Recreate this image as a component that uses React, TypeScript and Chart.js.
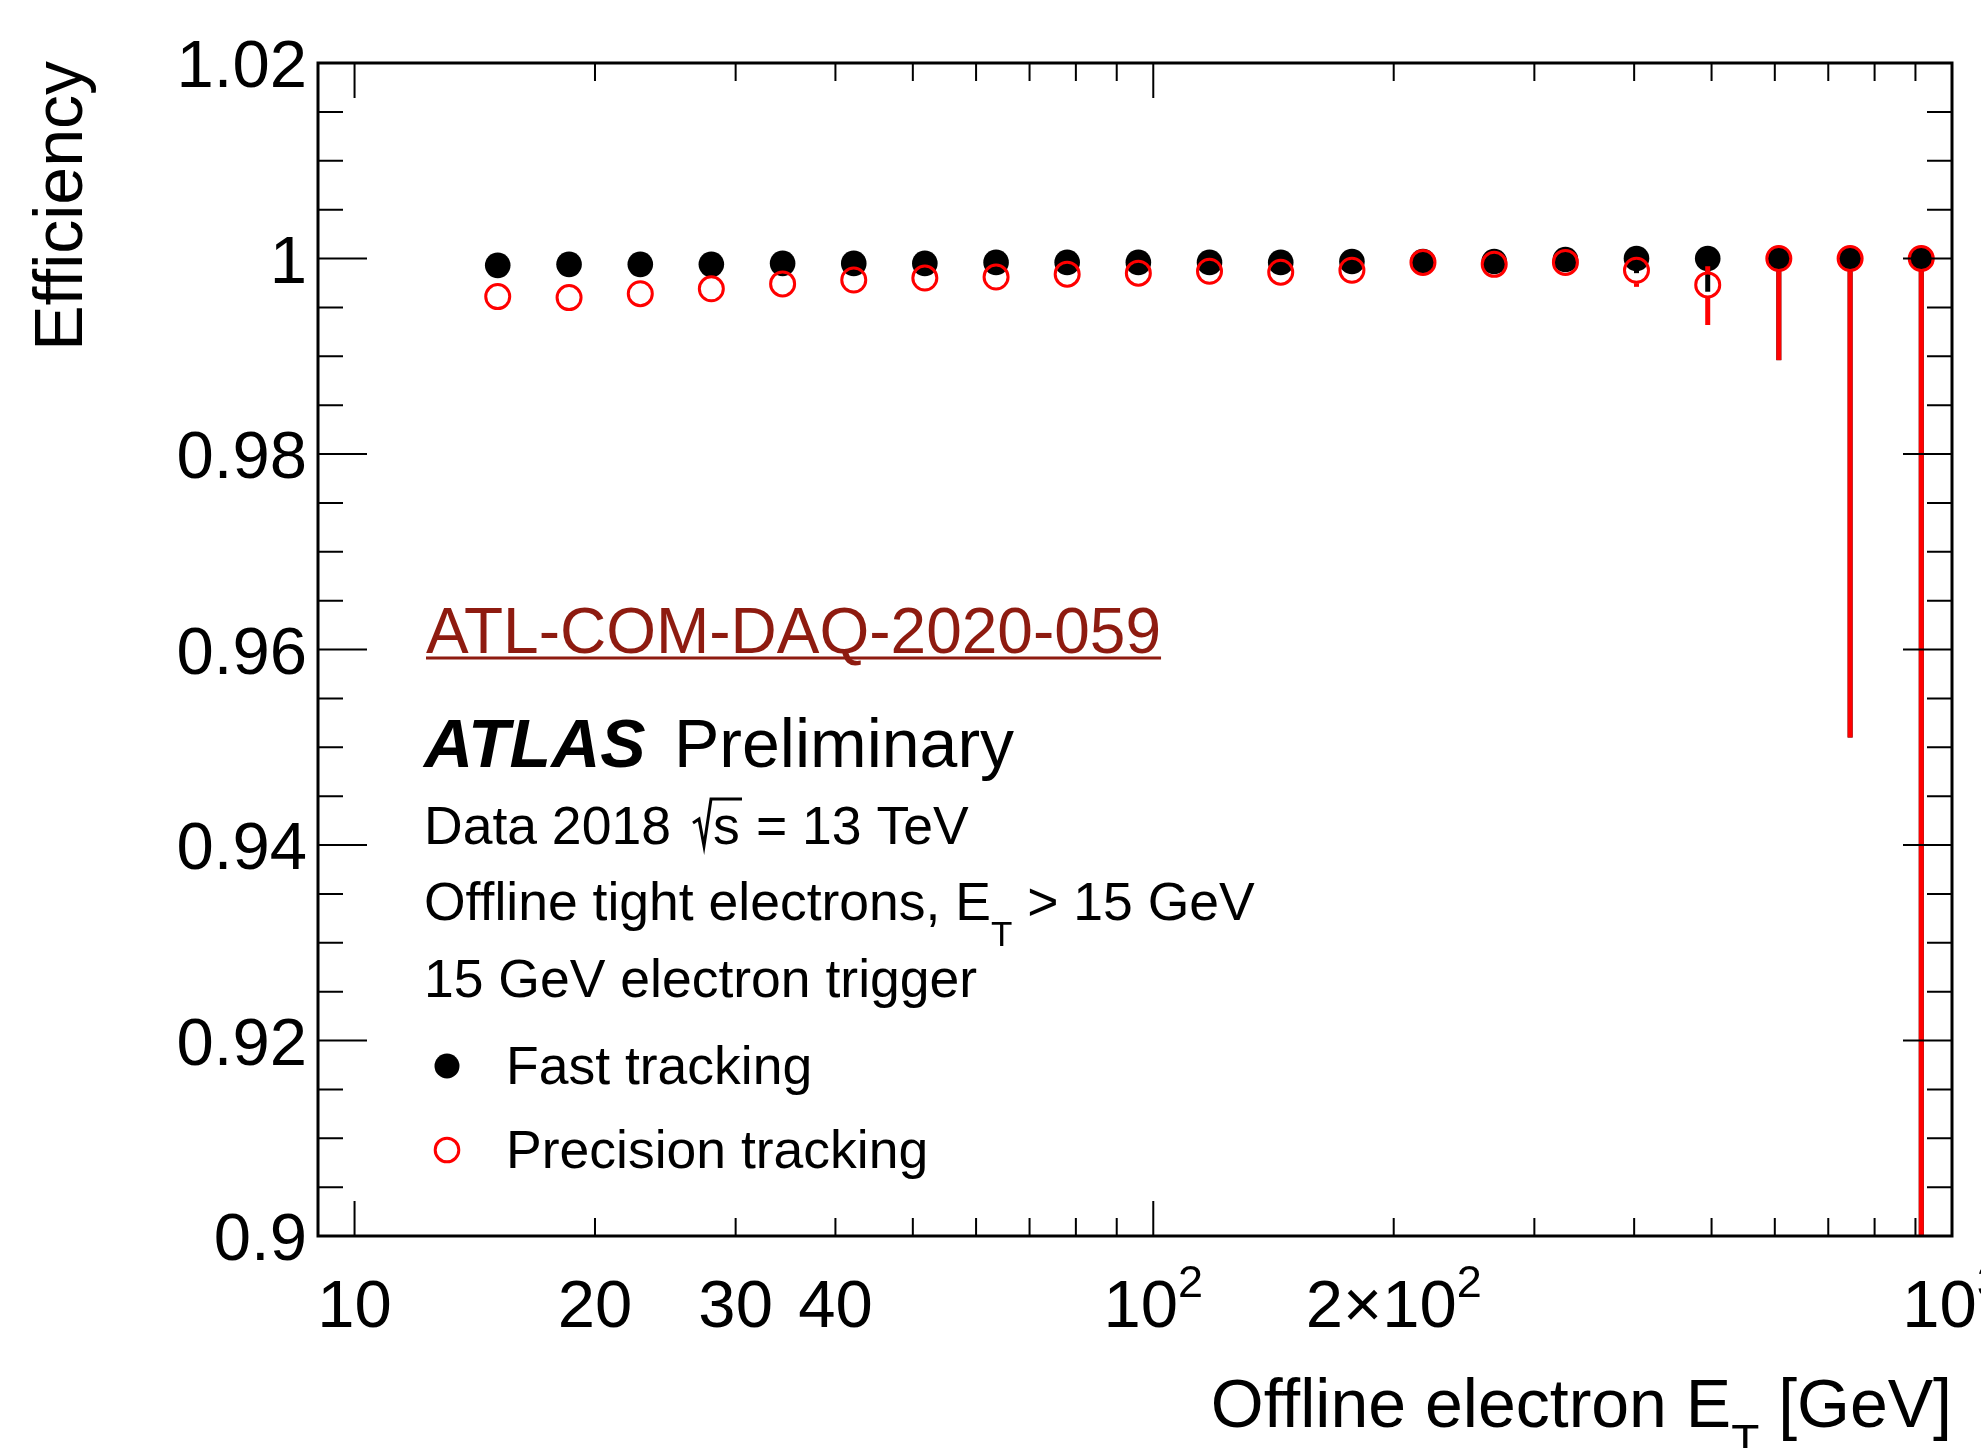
import React, { useEffect, useRef } from "react";
import { Chart, registerables } from "chart.js";

Chart.register(...registerables);

// ---- Data ----
const etCenters = [15.11, 18.56, 22.79, 27.97, 34.35, 42.17, 51.76, 63.56, 78.02, 95.79, 117.6, 144.4, 177.3, 217.6, 267.2, 328.1, 402.7, 494.5, 607.0, 745.5, 915.2];

const fastEff = [0.9993, 0.9994, 0.9994, 0.9994, 0.9995, 0.9995, 0.9995, 0.9996, 0.9996, 0.9996, 0.9996, 0.9996, 0.9997, 0.9997, 0.9997, 0.9999, 1.0, 1.0, 1.0, 1.0, 1.0];
const fastLow = [0.9992, 0.9993, 0.9993, 0.9993, 0.9994, 0.9994, 0.9994, 0.9995, 0.9995, 0.9995, 0.9995, 0.9995, 0.9995, 0.9995, 0.9995, 0.9996, 0.9985, 0.9966, 0.9896, 0.951, 0.85];
const fastHigh = [0.9994, 0.9995, 0.9995, 0.9995, 0.9996, 0.9996, 0.9996, 0.9997, 0.9997, 0.9997, 0.9997, 0.9997, 0.9998, 0.9998, 0.9998, 1.0, 1.0, 1.0, 1.0, 1.0, 1.0];

const precEff = [0.9961, 0.996, 0.9964, 0.9969, 0.9974, 0.9978, 0.998, 0.9981, 0.9984, 0.9985, 0.9987, 0.9986, 0.9988, 0.9996, 0.9994, 0.9996, 0.9988, 0.9973, 1.0, 1.0, 1.0];
const precLow = [0.9959, 0.9958, 0.9962, 0.9967, 0.9972, 0.9976, 0.9978, 0.9979, 0.9982, 0.9983, 0.9985, 0.9984, 0.9985, 0.9993, 0.9991, 0.9992, 0.9971, 0.9932, 0.9896, 0.951, 0.85];
const precHigh = [0.9963, 0.9962, 0.9966, 0.9971, 0.9976, 0.998, 0.9982, 0.9983, 0.9986, 0.9987, 0.9989, 0.9988, 0.999, 0.9998, 0.9996, 0.9998, 0.9996, 0.9992, 1.0, 1.0, 1.0];

const yMajorTicks = [0.9, 0.92, 0.94, 0.96, 0.98, 1.0, 1.02];
const yMajorLabels = ["0.9", "0.92", "0.94", "0.96", "0.98", "1", "1.02"];
const yMinorTicks = [0.905, 0.91, 0.915, 0.925, 0.93, 0.935, 0.945, 0.95, 0.955, 0.965, 0.97, 0.975, 0.985, 0.99, 0.995, 1.005, 1.01, 1.015];

const xMajorTicks = [10, 100, 1000];
const xMinorTicks = [20, 30, 40, 50, 60, 70, 80, 90, 200, 300, 400, 500, 600, 700, 800, 900];
const xLabelValues = [10, 20, 30, 40, 100, 200, 1000];
const xLabelBase = ["10", "20", "30", "40", "10", "2\u00d710", "10"];
const xLabelSup = ["", "", "", "", "2", "2", "3"];

const seriesNames = ["Fast tracking", "Precision tracking"];

const FONT = '"Liberation Sans", Arial, Helvetica, sans-serif';
const f = (px: number, style = "") => `${style} ${px}px ${FONT}`.trim();

const errorBarPlugin = {
  id: "errorBars",
  beforeDatasetDraw(chart: any, args: any) {
    const ds = chart.data.datasets[args.index];
    if (!ds.errLow) return;
    const ctx = chart.ctx;
    const ys = chart.scales.y;
    const a = chart.chartArea;
    ctx.save();
    ctx.beginPath();
    ctx.rect(a.left, a.top, a.right - a.left, a.bottom - a.top);
    ctx.clip();
    ctx.strokeStyle = ds.errColor;
    ctx.lineWidth = 5;
    ctx.lineCap = "butt";
    args.meta.data.forEach((pt: any, i: number) => {
      const px = pt.x;
      const py = pt.y;
      const r = ds.errGap;
      const lo = ys.getPixelForValue(ds.errLow[i]);
      const hi = ys.getPixelForValue(ds.errHigh[i]);
      ctx.beginPath();
      if (lo > py + r) {
        ctx.moveTo(px, py + r);
        ctx.lineTo(px, lo);
      }
      if (hi < py - r) {
        ctx.moveTo(px, py - r);
        ctx.lineTo(px, hi);
      }
      ctx.stroke();
    });
    ctx.restore();
  },
};

function drawScript(ctx: CanvasRenderingContext2D, x: number, baseline: number, parts: { t: string; size: number; dy?: number; style?: string }[], align: "left" | "right" | "center" = "left") {
  let total = 0;
  const widths = parts.map((p) => {
    ctx.font = f(p.size, p.style);
    const w = ctx.measureText(p.t).width;
    total += w;
    return w;
  });
  let cx = align === "left" ? x : align === "right" ? x - total : x - total / 2;
  ctx.textAlign = "left";
  ctx.textBaseline = "alphabetic";
  parts.forEach((p, i) => {
    ctx.font = f(p.size, p.style);
    ctx.fillText(p.t, cx, baseline + (p.dy || 0));
    cx += widths[i];
  });
}

const framePlugin = {
  id: "atlasFrame",
  afterDraw(chart: any) {
    const ctx: CanvasRenderingContext2D = chart.ctx;
    const a = chart.chartArea;
    const xs = chart.scales.x;
    const ys = chart.scales.y;
    ctx.save();
    ctx.fillStyle = "#000";
    ctx.strokeStyle = "#000";

    // ticks
    ctx.lineWidth = 2;
    ctx.beginPath();
    yMajorTicks.forEach((v) => {
      const py = ys.getPixelForValue(v);
      ctx.moveTo(a.left, py); ctx.lineTo(a.left + 49, py);
      ctx.moveTo(a.right, py); ctx.lineTo(a.right - 49, py);
    });
    yMinorTicks.forEach((v) => {
      const py = ys.getPixelForValue(v);
      ctx.moveTo(a.left, py); ctx.lineTo(a.left + 25, py);
      ctx.moveTo(a.right, py); ctx.lineTo(a.right - 25, py);
    });
    xMajorTicks.forEach((v) => {
      const px = xs.getPixelForValue(v);
      ctx.moveTo(px, a.bottom); ctx.lineTo(px, a.bottom - 35);
      ctx.moveTo(px, a.top); ctx.lineTo(px, a.top + 35);
    });
    xMinorTicks.forEach((v) => {
      const px = xs.getPixelForValue(v);
      ctx.moveTo(px, a.bottom); ctx.lineTo(px, a.bottom - 18);
      ctx.moveTo(px, a.top); ctx.lineTo(px, a.top + 18);
    });
    ctx.stroke();

    // frame
    ctx.lineWidth = 3;
    ctx.strokeRect(a.left, a.top, a.right - a.left, a.bottom - a.top);

    // y tick labels
    ctx.font = f(67);
    ctx.textAlign = "right";
    ctx.textBaseline = "alphabetic";
    yMajorTicks.forEach((v, i) => {
      const py = ys.getPixelForValue(v);
      ctx.fillText(yMajorLabels[i], a.left - 11, py + 24);
    });

    // x tick labels
    xLabelValues.forEach((v, i) => {
      const px = xs.getPixelForValue(v);
      const parts: any[] = [{ t: xLabelBase[i], size: 67 }];
      if (xLabelSup[i]) parts.push({ t: xLabelSup[i], size: 45, dy: -30 });
      drawScript(ctx, px, 1327, parts, "center");
    });

    // axis titles
    drawScript(ctx, a.right, 1427, [
      { t: "Offline electron E", size: 68 },
      { t: "T", size: 46, dy: 30 },
      { t: " [GeV]", size: 68 },
    ], "right");

    ctx.save();
    ctx.translate(82, a.top - 2);
    ctx.rotate(-Math.PI / 2);
    ctx.font = f(68);
    ctx.textAlign = "right";
    ctx.textBaseline = "alphabetic";
    ctx.fillText("Efficiency", 0, 0);
    ctx.restore();

    // reference tag
    ctx.fillStyle = "#8e1b10";
    ctx.font = f(64);
    ctx.textAlign = "left";
    ctx.fillText("ATL-COM-DAQ-2020-059", 426, 653);
    const tw = ctx.measureText("ATL-COM-DAQ-2020-059").width;
    ctx.fillRect(426, 656.5, tw, 3);

    // ATLAS Preliminary
    ctx.fillStyle = "#000";
    ctx.font = f(68, "italic bold");
    ctx.fillText("ATLAS", 424, 767);
    ctx.font = f(68);
    ctx.fillText("Preliminary", 674, 767);

    // Data 2018 sqrt(s) = 13 TeV
    ctx.font = f(53.5);
    ctx.fillText("Data 2018", 424, 844);
    ctx.fillText("s", 713, 844);
    ctx.fillText("= 13 TeV", 756, 844);
    ctx.lineWidth = 3;
    ctx.lineJoin = "miter";
    ctx.beginPath();
    ctx.moveTo(693, 823);
    ctx.lineTo(699, 819);
    ctx.lineTo(704, 846);
    ctx.lineTo(711, 799);
    ctx.lineTo(742, 799);
    ctx.stroke();

    drawScript(ctx, 424, 920, [
      { t: "Offline tight electrons, E", size: 53.5 },
      { t: "T", size: 35, dy: 26 },
      { t: " > 15 GeV", size: 53.5 },
    ]);
    ctx.font = f(53.5);
    ctx.fillText("15 GeV electron trigger", 424, 997);

    // legend
    ctx.beginPath();
    ctx.arc(447, 1066, 12.5, 0, Math.PI * 2);
    ctx.fill();
    ctx.strokeStyle = "#ff0000";
    ctx.lineWidth = 3;
    ctx.beginPath();
    ctx.arc(447, 1150, 11.8, 0, Math.PI * 2);
    ctx.stroke();
    ctx.fillStyle = "#000";
    ctx.font = f(53.5);
    ctx.fillText(seriesNames[0], 506, 1084);
    ctx.fillText(seriesNames[1], 506, 1168);

    ctx.restore();
  },
};

export default function App() {
  const ref = useRef<HTMLCanvasElement | null>(null);
  useEffect(() => {
    document.body.style.margin = "0";
    const canvas = ref.current;
    if (!canvas) return;
    const chart = new Chart(canvas, {
      type: "scatter",
      data: {
        datasets: [
          {
            label: seriesNames[1],
            data: etCenters.map((x, i) => ({ x, y: precEff[i] })),
            order: 0,
            pointStyle: "circle",
            pointRadius: 12,
            pointBackgroundColor: "rgba(0,0,0,0)",
            pointBorderColor: "#ff0000",
            pointBorderWidth: 3,
            showLine: false,
            errLow: precLow,
            errHigh: precHigh,
            errColor: "#ff0000",
            errGap: 13,
          } as any,
          {
            label: seriesNames[0],
            data: etCenters.map((x, i) => ({ x, y: fastEff[i] })),
            order: 1,
            pointStyle: "circle",
            pointRadius: 12.8,
            pointBackgroundColor: "#000000",
            pointBorderColor: "#000000",
            pointBorderWidth: 0,
            showLine: false,
            errLow: fastLow,
            errHigh: fastHigh,
            errColor: "#000000",
            errGap: 12,
          } as any,
        ],
      },
      options: {
        responsive: false,
        animation: false,
        devicePixelRatio: 1,
        events: [],
        layout: { padding: { left: 318, top: 63, right: 29, bottom: 212 } },
        scales: {
          x: { type: "logarithmic", min: 9, max: 1000, display: false },
          y: { type: "linear", min: 0.9, max: 1.02, display: false },
        },
        plugins: {
          legend: { display: false },
          tooltip: { enabled: false },
          title: { display: false },
        },
      },
      plugins: [errorBarPlugin, framePlugin],
    });
    return () => chart.destroy();
  }, []);
  return (
    <div style={{ position: "absolute", left: 0, top: 0, width: 1981, height: 1448, background: "#fff" }}>
      <canvas ref={ref} width={1981} height={1448} style={{ width: 1981, height: 1448, display: "block" }} />
    </div>
  );
}
